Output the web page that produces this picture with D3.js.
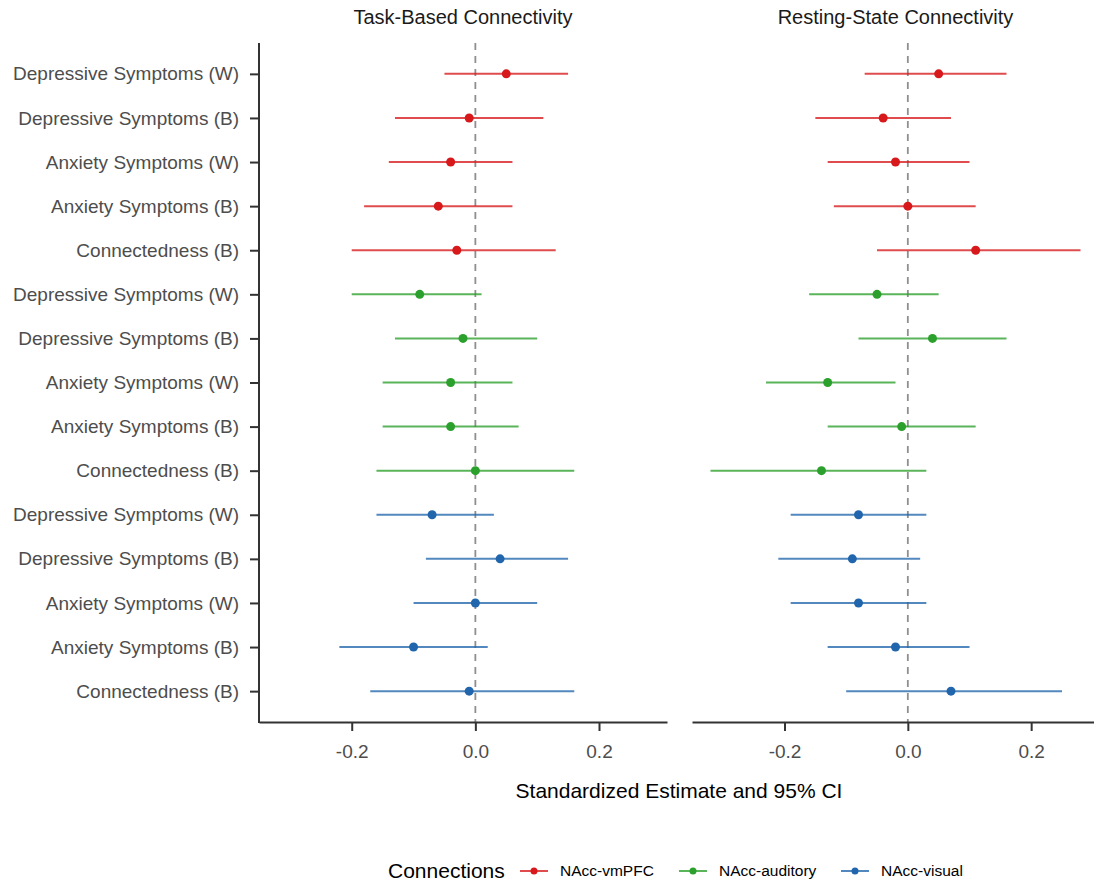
<!DOCTYPE html>
<html>
<head>
<meta charset="utf-8">
<script src="https://cdn.jsdelivr.net/npm/d3@7"></script>
<style>
  html, body { margin: 0; padding: 0; background: #ffffff; }
  svg { display: block; font-family: "Liberation Sans", Arial, Helvetica, sans-serif; }
</style>
</head>
<body>
<svg id="chart" width="1094" height="882"></svg>
<script>
// Outcome labels, repeated for each connection block
const outcomes = ["Depressive Symptoms (W)", "Depressive Symptoms (B)", "Anxiety Symptoms (W)", "Anxiety Symptoms (B)", "Connectedness (B)"];
const connections = ["NAcc-vmPFC", "NAcc-auditory", "NAcc-visual"];
const panelTitles = ["Task-Based Connectivity", "Resting-State Connectivity"];
const xTicks = [-0.2, 0.0, 0.2];

// Task-based connectivity: estimate, lower and upper 95% CI (vmPFC, auditory, visual blocks)
const taskEst = [0.05, -0.01, -0.04, -0.06, -0.03, -0.09, -0.02, -0.04, -0.04, 0.00, -0.07, 0.04, 0.00, -0.10, -0.01];
const taskLo  = [-0.05, -0.13, -0.14, -0.18, -0.20, -0.20, -0.13, -0.15, -0.15, -0.16, -0.16, -0.08, -0.10, -0.22, -0.17];
const taskHi  = [0.15, 0.11, 0.06, 0.06, 0.13, 0.01, 0.10, 0.06, 0.07, 0.16, 0.03, 0.15, 0.10, 0.02, 0.16];

// Resting-state connectivity
const restEst = [0.05, -0.04, -0.02, 0.00, 0.11, -0.05, 0.04, -0.13, -0.01, -0.14, -0.08, -0.09, -0.08, -0.02, 0.07];
const restLo  = [-0.07, -0.15, -0.13, -0.12, -0.05, -0.16, -0.08, -0.23, -0.13, -0.32, -0.19, -0.21, -0.19, -0.13, -0.10];
const restHi  = [0.16, 0.07, 0.10, 0.11, 0.28, 0.05, 0.16, -0.02, 0.11, 0.03, 0.03, 0.02, 0.03, 0.10, 0.25];

const colors = ["#d7191c", "#2ca02c", "#2166ac"];

// Build row records
function buildRows(est, lo, hi) {
  return est.map((e, i) => ({
    idx: i,
    label: outcomes[i % outcomes.length],
    conn: connections[Math.floor(i / outcomes.length)],
    est: e, lo: lo[i], hi: hi[i]
  }));
}
const panels = [
  { title: panelTitles[0], rows: buildRows(taskEst, taskLo, taskHi), x0: 259, x1: 667, yAxis: true },
  { title: panelTitles[1], rows: buildRows(restEst, restLo, restHi), x0: 692, x1: 1099, yAxis: false }
];

const svg = d3.select("#chart");
const plotTop = 43, plotBottom = 722;
const axisCol = "#333333", textCol = "#4d4d4d";
const tickFmt = d => d.toFixed(1); // plain hyphen for negatives

const y = d3.scalePoint()
  .domain(d3.range(taskEst.length))
  .range([plotTop, plotBottom])
  .padding(0.7);

const color = d3.scaleOrdinal().domain(connections).range(colors);

panels.forEach(p => {
  const x = d3.scaleLinear().domain([-0.35, 0.31]).range([p.x0, p.x1]);
  const g = svg.append("g");

  // panel title
  g.append("text")
    .attr("x", (p.x0 + p.x1) / 2)
    .attr("y", 24)
    .attr("text-anchor", "middle")
    .attr("font-size", 20)
    .attr("fill", "#1a1a1a")
    .text(p.title);

  // zero reference line
  g.append("line")
    .attr("x1", x(0)).attr("x2", x(0))
    .attr("y1", plotTop).attr("y2", plotBottom)
    .attr("stroke", "#8f8f8f")
    .attr("stroke-width", 1.8)
    .attr("stroke-dasharray", "7,6");

  // confidence intervals
  g.selectAll("line.ci").data(p.rows).join("line")
    .attr("class", "ci")
    .attr("x1", d => x(d.lo)).attr("x2", d => x(d.hi))
    .attr("y1", d => y(d.idx)).attr("y2", d => y(d.idx))
    .attr("stroke", d => color(d.conn))
    .attr("stroke-opacity", 0.78)
    .attr("stroke-width", 2);

  // point estimates
  g.selectAll("circle.est").data(p.rows).join("circle")
    .attr("class", "est")
    .attr("cx", d => x(d.est))
    .attr("cy", d => y(d.idx))
    .attr("r", 4.5)
    .attr("fill", d => color(d.conn));

  // x axis
  const xAxis = g.append("g")
    .attr("transform", `translate(0,${plotBottom})`)
    .call(d3.axisBottom(x).tickValues(xTicks).tickFormat(tickFmt).tickSize(9).tickSizeOuter(0).tickPadding(14));
  xAxis.select(".domain").attr("stroke", axisCol).attr("stroke-width", 2);
  xAxis.selectAll(".tick line").attr("stroke", axisCol).attr("stroke-width", 2);
  xAxis.selectAll(".tick text")
    .attr("font-size", 19)
    .attr("fill", textCol)
    .attr("font-family", "Liberation Sans, Arial, sans-serif");

  // y axis only on the first panel
  if (p.yAxis) {
    const yAxis = g.append("g")
      .attr("transform", `translate(${p.x0},0)`)
      .call(d3.axisLeft(y).tickFormat(i => outcomes[i % outcomes.length]).tickSize(9).tickSizeOuter(0).tickPadding(11));
    yAxis.select(".domain").attr("stroke", axisCol).attr("stroke-width", 2)
      .attr("d", `M0,${plotTop}V${plotBottom + 1}`);
    yAxis.selectAll(".tick line").attr("stroke", axisCol).attr("stroke-width", 2);
    yAxis.selectAll(".tick text")
      .attr("font-size", 19)
      .attr("fill", textCol)
      .attr("font-family", "Liberation Sans, Arial, sans-serif");
  }
});

// x axis title, centred across both panels
svg.append("text")
  .attr("x", (259 + 1099) / 2)
  .attr("y", 798)
  .attr("text-anchor", "middle")
  .attr("font-size", 21)
  .attr("fill", "#000000")
  .text("Standardized Estimate and 95% CI");

// legend
const legend = svg.append("g").attr("transform", "translate(0,871)");
legend.append("text")
  .attr("x", 388).attr("y", 0).attr("dy", "0.35em")
  .attr("font-size", 21).attr("fill", "#000000")
  .text("Connections");
const keyX = [520, 679, 841];
connections.forEach((c, i) => {
  const k = legend.append("g").attr("transform", `translate(${keyX[i]},0)`);
  k.append("line").attr("x1", 0).attr("x2", 28).attr("y1", 0).attr("y2", 0)
    .attr("stroke", color(c)).attr("stroke-opacity", 0.78).attr("stroke-width", 2);
  k.append("circle").attr("cx", 14).attr("cy", 0).attr("r", 3.5).attr("fill", color(c));
  k.append("text").attr("x", 40).attr("y", 0).attr("dy", "0.35em")
    .attr("font-size", 15.5).attr("fill", "#000000")
    .text(c);
});
</script>
</body>
</html>
